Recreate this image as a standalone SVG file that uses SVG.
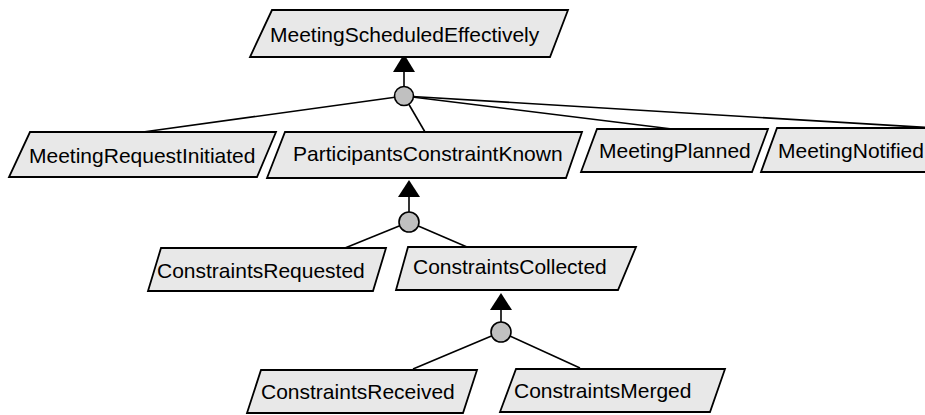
<svg xmlns="http://www.w3.org/2000/svg" width="925" height="415" viewBox="0 0 925 415">
<defs>
<style>
.box{fill:#e8e8e8;stroke:#000;stroke-width:1.8;stroke-linejoin:miter}
.lbl{font-family:"Liberation Sans",Arial,sans-serif;font-size:21px;fill:#000}
.ln{stroke:#000;stroke-width:1.6;fill:none}
.dot{fill:#c0c0c0;stroke:#000;stroke-width:1.6}
.tri{fill:#000;stroke:none}
</style>
</defs>
<rect width="925" height="415" fill="#fff"/>
<g id="connectors">
<line class="ln" x1="404" y1="96" x2="143" y2="132"/>
<line class="ln" x1="404" y1="96" x2="425" y2="132"/>
<line class="ln" x1="404" y1="96" x2="672" y2="129"/>
<line class="ln" x1="404" y1="96" x2="935" y2="128"/>
<line class="ln" x1="404" y1="96" x2="404" y2="70"/>
<polygon class="tri" points="404,54 393,72 415,72"/>
<circle class="dot" cx="404" cy="96" r="9.5"/>
<line class="ln" x1="409" y1="222" x2="345" y2="248"/>
<line class="ln" x1="409" y1="222" x2="467" y2="247"/>
<line class="ln" x1="409" y1="222" x2="409" y2="195"/>
<polygon class="tri" points="409,180 398,197 420,197"/>
<circle class="dot" cx="409" cy="222" r="10"/>
<line class="ln" x1="501" y1="332" x2="413" y2="369"/>
<line class="ln" x1="501" y1="332" x2="580" y2="368"/>
<line class="ln" x1="501" y1="332" x2="501" y2="308"/>
<polygon class="tri" points="501,293 490,310 512,310"/>
<circle class="dot" cx="501" cy="332" r="10"/>
</g>
<g id="n-MeetingScheduledEffectively">
<polygon class="box" points="272,10 568,10 550,57 250,57"/>
<text class="lbl" x="270" y="42">MeetingScheduledEffectively</text>
</g>
<g id="n-MeetingRequestInitiated">
<polygon class="box" points="30,132 276,132 257,177 9,177"/>
<text class="lbl" x="29" y="163">MeetingRequestInitiated</text>
</g>
<g id="n-ParticipantsConstraintKnown">
<polygon class="box" points="285,132 582,132 566,178 267,178"/>
<text class="lbl" x="293" y="161">ParticipantsConstraintKnown</text>
</g>
<g id="n-MeetingPlanned">
<polygon class="box" points="597,129 768,129 752,172 581,172"/>
<text class="lbl" x="599" y="158">MeetingPlanned</text>
</g>
<g id="n-MeetingNotified">
<polygon class="box" points="777,128 945,128 929,172 761,172"/>
<text class="lbl" x="778" y="158">MeetingNotified</text>
</g>
<g id="n-ConstraintsRequested">
<polygon class="box" points="161,248 386,248 373,291 148,291"/>
<text class="lbl" x="157" y="278">ConstraintsRequested</text>
</g>
<g id="n-ConstraintsCollected">
<polygon class="box" points="408,247 636,247 618,290 396,290"/>
<text class="lbl" x="413" y="274">ConstraintsCollected</text>
</g>
<g id="n-ConstraintsReceived">
<polygon class="box" points="261,370 477,370 463,413 247,413"/>
<text class="lbl" x="261" y="399">ConstraintsReceived</text>
</g>
<g id="n-ConstraintsMerged">
<polygon class="box" points="516,369 725,369 710,412 500,412"/>
<text class="lbl" x="514" y="398">ConstraintsMerged</text>
</g>
</svg>
